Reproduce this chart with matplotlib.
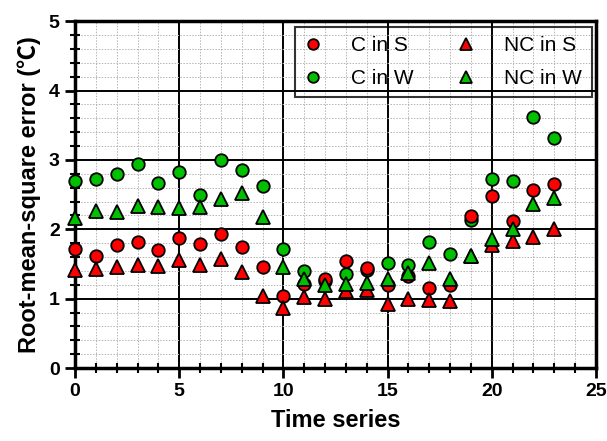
import matplotlib.pyplot as plt
import numpy as np
from matplotlib.ticker import MultipleLocator

plt.rcParams['font.family'] = ['Liberation Sans', 'Noto Sans CJK SC', 'DejaVu Sans']

# RMSE for each time step
t = np.arange(24)
c_s = [1.71, 1.62, 1.77, 1.82, 1.70, 1.87, 1.79, 1.93, 1.74, 1.45, 1.04, 1.21,
       1.28, 1.54, 1.44, 1.19, 1.32, 1.16, 1.20, 2.19, 2.48, 2.12, 2.56, 2.65]
nc_s = [1.41, 1.43, 1.46, 1.48, 1.47, 1.56, 1.48, 1.57, 1.38, 1.04, 0.87, 1.02,
        1.00, 1.11, 1.13, 0.93, 0.99, 0.98, 0.96, 1.61, 1.78, 1.83, 1.89, 2.01]
c_w = [2.69, 2.73, 2.80, 2.94, 2.66, 2.82, 2.50, 3.00, 2.86, 2.63, 1.71, 1.40,
       1.26, 1.36, 1.42, 1.51, 1.49, 1.81, 1.65, 2.14, 2.72, 2.70, 3.62, 3.31]
nc_w = [2.16, 2.26, 2.25, 2.33, 2.32, 2.30, 2.32, 2.44, 2.52, 2.17, 1.45, 1.28,
        1.19, 1.21, 1.23, 1.28, 1.37, 1.52, 1.29, 1.62, 1.86, 2.01, 2.36, 2.45]

fig = plt.figure(figsize=(6.07, 4.41), dpi=100)
ax = fig.add_axes([0.1236, 0.1655, 0.858, 0.7865])

mk = dict(linestyle='none', markeredgecolor='black', markeredgewidth=1.3, clip_on=False, zorder=5)
h_cw, = ax.plot(t, c_w, 'o', color='#00c000', markersize=9, label='C in W', **mk)
h_cs, = ax.plot(t, c_s, 'o', color='#ff0000', markersize=9, label='C in S', **mk)
h_ns, = ax.plot(t, nc_s, '^', color='#ff0000', markersize=9.5, label='NC in S', **mk)
h_nw, = ax.plot(t, nc_w, '^', color='#00c000', markersize=9.5, label='NC in W', **mk)

ax.set_xlim(0, 25)
ax.set_ylim(0, 5)
ax.xaxis.set_major_locator(MultipleLocator(5))
ax.xaxis.set_minor_locator(MultipleLocator(1))
ax.yaxis.set_major_locator(MultipleLocator(1))
ax.yaxis.set_minor_locator(MultipleLocator(0.2))

ax.grid(which='major', color='black', linewidth=1.4, linestyle='-')
ax.grid(which='minor', color='#b4b4b4', linewidth=0.7, linestyle=(0, (1.5, 1.5)))
ax.set_axisbelow(True)

for s in ax.spines.values():
    s.set_linewidth(2.5)
ax.tick_params(which='major', direction='out', length=7, width=2, labelsize=14, pad=4)
ax.tick_params(which='minor', direction='inout', length=7, width=1.5)
for lab in ax.get_xticklabels() + ax.get_yticklabels():
    lab.set_fontweight('bold')

ax.set_xlabel('Time series', fontsize=17, fontweight='bold', labelpad=6)
ax.set_ylabel('Root-mean-square error (℃)', fontsize=17, fontweight='bold', labelpad=6)

leg = ax.legend(handles=[h_cs, h_cw, h_ns, h_nw], ncol=2, loc='upper right',
                bbox_to_anchor=(0.992, 0.983), fontsize=15, frameon=True, fancybox=False,
                handlelength=0.8, handletextpad=1.45, columnspacing=2.1, labelspacing=0.65,
                borderpad=0.45, borderaxespad=0, markerscale=0.85)
leg.get_frame().set_facecolor('none')
leg.get_frame().set_edgecolor('black')
leg.get_frame().set_linewidth(1.5)

fig.savefig('out.png', dpi=100)
